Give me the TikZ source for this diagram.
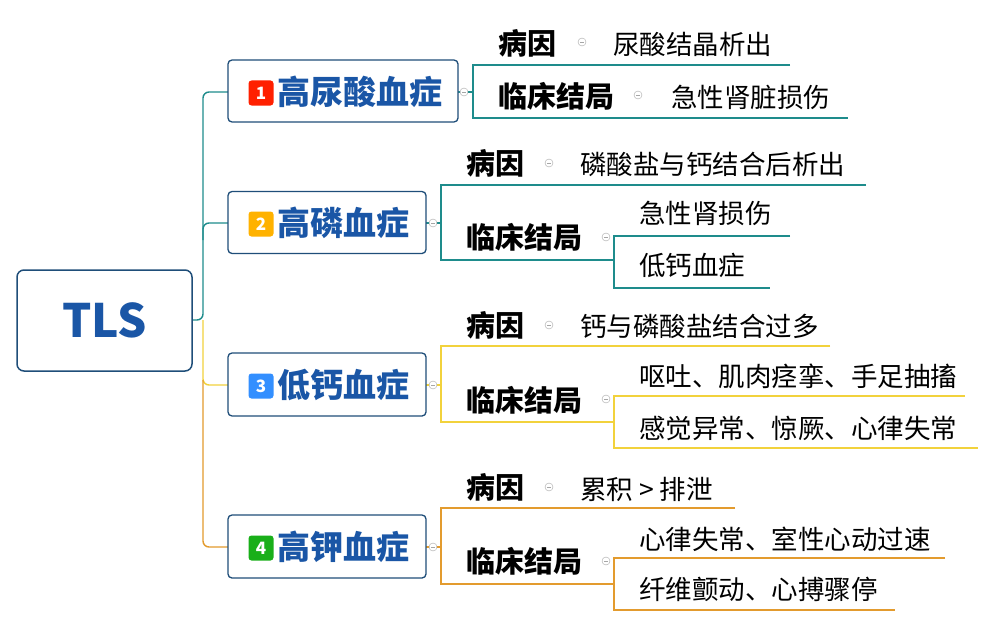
\documentclass[tikz,border=0pt]{standalone}
\usepackage{fontspec}
\setmainfont{Noto Sans CJK SC}
\definecolor{teal1}{HTML}{1E8C8C}
\definecolor{yel}{HTML}{F2D23C}
\definecolor{org}{HTML}{E39B2E}
\definecolor{navy}{HTML}{1F4E79}
\definecolor{btxt}{HTML}{1A56A6}
\begin{document}
\begin{tikzpicture}[x=1pt,y=-1pt,
  br/.style={draw=navy,line width=1.3pt,rounded corners=4pt,fill=white,inner sep=0},
  brt/.style={text=btxt,font=\fontsize{33}{35}\selectfont\bfseries,anchor=west,inner sep=0},
  badge/.style={fill=#1,rounded corners=3pt,minimum width=25pt,minimum height=25pt,inner sep=0,text=white,font=\fontsize{17}{17}\selectfont\bfseries},
  sub/.style={font=\fontsize{29}{31}\selectfont\bfseries,anchor=west,inner sep=0},
  leaf/.style={font=\fontsize{26.5}{28}\selectfont,anchor=west,inner sep=0},
  col/.style={circle,draw=gray!70,fill=white,line width=0.4pt,minimum size=8pt,inner sep=0,
    path picture={\draw[gray!70,line width=0.4pt] ([xshift=-2pt]path picture bounding box.center)--([xshift=2pt]path picture bounding box.center);}},
  ln/.style={line width=1.4pt}]
\useasboundingbox (0,0) rectangle (996,626);
\fill[white] (0,0) rectangle (996,626);
% trunk
\draw[ln,teal1,rounded corners=6pt] (192,320)--(203,320)--(203,92)--(228,92);
\draw[ln,teal1,rounded corners=6pt] (203,240)--(203,223)--(228,223);
\draw[ln,yel,rounded corners=6pt] (203,320)--(203,385)--(228,385);
\draw[ln,org,rounded corners=6pt] (203,380)--(203,547)--(228,547);
% TLS
\node[draw=navy,line width=1.5pt,rounded corners=7pt,minimum width=175pt,minimum height=101pt,font=\fontsize{46}{46}\selectfont\bfseries,text=btxt] (tls) at (104.5,320.5) {TLS};
% branch 1
\draw[ln,teal1] (790,65)--(473,65)--(473,118)--(848,118);
\draw[ln,teal1] (458,92)--(473,92);
\node[br,minimum width=230pt,minimum height=62pt] (b1) at (343,91) {};
\node[badge=red!75!orange] (n1) at (261,93) {1};
\node[brt] at (277,92) {高尿酸血症};
\node[col] at (464,92) {};
\node[sub] (c1) at (498,43) {病因};
\node[col] at (582,42) {};
\node[leaf] (l1) at (613,44) {尿酸结晶析出};
\node[sub] (d1) at (498,96) {临床结局};
\node[col] at (638,95) {};
\node[leaf] (m1) at (671,97) {急性肾脏损伤};
% branch 2
\draw[ln,teal1] (866,185)--(441,185)--(441,260)--(614,260);
\draw[ln,teal1] (790,236)--(614,236)--(614,288)--(770,288);
\draw[ln,teal1] (426,223)--(441,223);
\node[br,minimum width=198pt,minimum height=62pt] (b2) at (327,222.5) {};
\node[badge=orange!60!yellow] (n2) at (261,224) {2};
\node[brt] at (277,223) {高磷血症};
\node[col] at (433,223) {};
\node[sub] (c2) at (466,163) {病因};
\node[col] at (549,163) {};
\node[leaf] (l2) at (580,164) {磷酸盐与钙结合后析出};
\node[sub] (d2) at (466,237) {临床结局};
\node[col] at (606,237) {};
\node[leaf] (m2) at (639,213) {急性肾损伤};
\node[leaf] (k2) at (639,265) {低钙血症};
% branch 3
\draw[ln,yel] (830,346)--(441,346)--(441,422)--(614,422);
\draw[ln,yel] (965,396)--(614,396)--(614,448)--(978,448);
\draw[ln,yel] (426,385)--(441,385);
\node[br,minimum width=198pt,minimum height=63pt] (b3) at (327,384.5) {};
\node[badge=blue!55!cyan!80!white] (n3) at (261,386) {3};
\node[brt] at (277,385) {低钙血症};
\node[col] at (433,385) {};
\node[sub] (c3) at (466,325) {病因};
\node[col] at (549,325) {};
\node[leaf] (l3) at (580,326) {钙与磷酸盐结合过多};
\node[sub] (d3) at (466,400) {临床结局};
\node[col] at (606,399) {};
\node[leaf] (m3) at (639,376) {呕吐、肌肉痉挛、手足抽搐};
\node[leaf] (k3) at (639,428) {感觉异常、惊厥、心律失常};
% branch 4
\draw[ln,org] (735,508)--(441,508)--(441,584)--(614,584);
\draw[ln,org] (945,558)--(614,558)--(614,610)--(895,610);
\draw[ln,org] (426,547)--(441,547);
\node[br,minimum width=198pt,minimum height=63pt] (b4) at (327,546.5) {};
\node[badge=green!65!black!90!white] (n4) at (261,548) {4};
\node[brt] at (277,547) {高钾血症};
\node[col] at (433,547) {};
\node[sub] (c4) at (466,487) {病因};
\node[col] at (549,487) {};
\node[leaf] (l4) at (580,489) {累积 > 排泄};
\node[sub] (d4) at (466,561) {临床结局};
\node[col] at (606,561) {};
\node[leaf] (m4) at (639,539) {心律失常、室性心动过速};
\node[leaf] (k4) at (639,589) {纤维颤动、心搏骤停};
\end{tikzpicture}
\end{document}
